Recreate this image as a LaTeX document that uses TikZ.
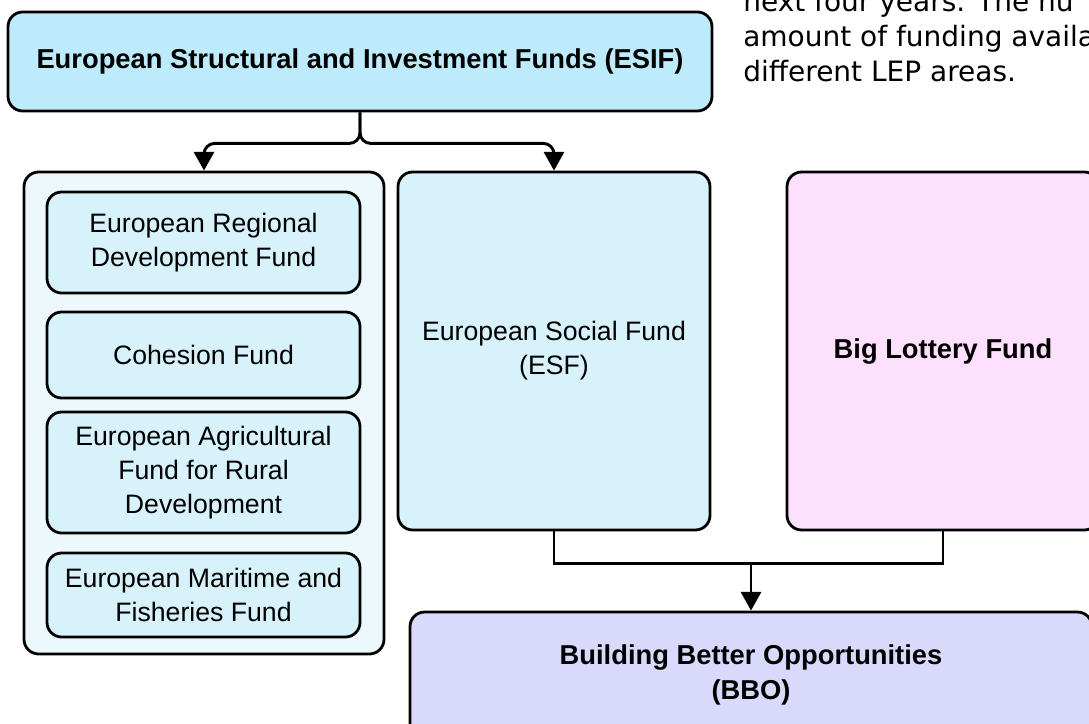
\documentclass[tikz,border=0pt]{standalone}
\usepackage{fontspec}
\setmainfont{Liberation Sans}
\newfontfamily\parafont{DejaVu Sans}
\usetikzlibrary{arrows.meta}
\definecolor{esifcyan}{HTML}{BDEBFC}
\definecolor{fundcyan}{HTML}{D8F2FC}
\definecolor{groupcyan}{HTML}{EDF8FD}
\definecolor{lotterypink}{HTML}{FDE0FD}
\definecolor{bbolilac}{HTML}{D9D9FC}

\begin{document}
\begin{tikzpicture}[x=0.75pt,y=-0.75pt,
  box/.style={draw,line width=2.1pt,rounded corners=11pt,align=center,inner sep=0pt,
    font=\fontsize{20}{25.5}\selectfont},
  boldbox/.style={box,font=\fontsize{20.5}{26}\selectfont\bfseries},
  fund/.style={box,fill=fundcyan,minimum width=234.75pt},
  para/.style={anchor=base west,inner sep=0pt,font=\parafont\fontsize{21}{25}\selectfont},
  flow/.style={line width=2.2pt,-{Triangle[width=15pt,length=14pt]}},
  link/.style={line width=2.2pt}]
\useasboundingbox (0,0) rectangle (1089,724);
\clip (0,0) rectangle (1089,724);

% text running in from the page
\foreach \yb/\txt in {12/next four years. The nu,47/amount of funding availa,82/different LEP areas.}
  \node[para] (para\yb) at (743,\yb) {\txt};

\node[boldbox,fill=esifcyan,minimum width=528pt,minimum height=74.25pt] (esif) at (360,61.5)
  {European Structural and Investment Funds (ESIF)};

% ESIF group on the left
\node[box,fill=groupcyan,minimum width=270pt,minimum height=361.5pt] (esifgrp) at (204,413) {};
\node[fund,minimum height=75.75pt] (erdf) at (203.5,242.5) {European Regional\\Development Fund};
\node[fund,minimum height=64.5pt] (cf) at (203.5,355) {Cohesion Fund};
\node[fund,minimum height=90.75pt] (eafrd) at (203.5,472.5) {European Agricultural\\Fund for Rural\\Development};
\node[fund,minimum height=63pt] (emff) at (203.5,595) {European Maritime and\\Fisheries Fund};

\node[fund,minimum width=234pt,minimum height=268.5pt] (esf) at (554,351) {European Social Fund\\(ESF)};
\node[boldbox,fill=lotterypink,minimum width=234pt,minimum height=268.5pt] (blf) at (943,351) {Big Lottery Fund};
\node[boldbox,fill=bbolilac,minimum width=511.5pt,minimum height=94.5pt] (bbo) at (751,675)
  {Building Better Opportunities\\(BBO)};

\draw[flow,rounded corners=8pt] (esif.south) -- ++(0,31) -| (esifgrp.north);
\draw[flow,rounded corners=8pt] (esif.south) -- ++(0,31) -| (esf.north);

\draw[link] (esf.south) -- ++(0,32) coordinate (split) -| (blf.south);
\draw[flow] (split -| bbo.north) -- (bbo.north);

\end{tikzpicture}
\end{document}
